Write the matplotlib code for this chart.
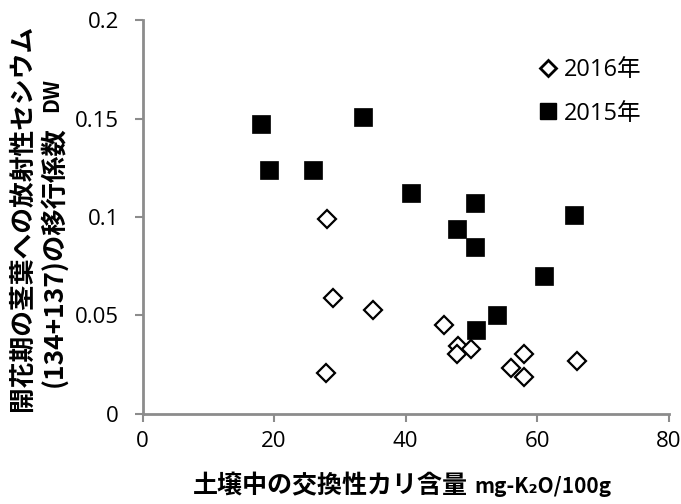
import matplotlib
matplotlib.use("Agg")
import matplotlib.pyplot as plt
from matplotlib.lines import Line2D

plt.rcParams["font.family"] = ["Noto Sans CJK JP", "DejaVu Sans"]

# soil exchangeable K (mg-K2O/100g) vs transfer factor
x_2016 = [28.0, 28.9, 35.0, 45.9, 48.0, 47.8, 50.0, 58.0, 56.0, 58.0, 66.0, 27.9]
y_2016 = [0.099, 0.059, 0.053, 0.0454, 0.0344, 0.0304, 0.0328, 0.0305, 0.0232, 0.0186, 0.0268, 0.0209]

x_2015 = [18.0, 19.2, 25.9, 33.5, 40.8, 47.8, 50.5, 50.5, 65.6, 61.0, 53.9, 50.7]
y_2015 = [0.147, 0.124, 0.124, 0.151, 0.112, 0.094, 0.107, 0.0846, 0.101, 0.070, 0.050, 0.0426]

labels = ["2016年", "2015年"]
xticks = [0, 20, 40, 60, 80]
yticks = [0, 0.05, 0.1, 0.15, 0.2]
ytick_labels = ["0", "0.05", "0.1", "0.15", "0.2"]

fig = plt.figure(figsize=(6.81, 5.04), dpi=100)
ax = fig.add_axes([0.2093, 0.1786, 0.7727, 0.7817])

ax.plot(x_2016, y_2016, "D", ms=9.5, mfc="white", mec="black", mew=1.6, linestyle="none")
ax.plot(x_2015, y_2015, "s", ms=12.5, mfc="black", mec="black", mew=0.5, linestyle="none")

ax.set_xlim(0, 80)
ax.set_ylim(0, 0.2)
ax.set_xticks(xticks)
ax.set_yticks(yticks)
ax.set_yticklabels(ytick_labels)

gray = "#8c8c8c"
for side in ["top", "right"]:
    ax.spines[side].set_visible(False)
for side in ["left", "bottom"]:
    ax.spines[side].set_color(gray)
    ax.spines[side].set_linewidth(2)
ax.tick_params(colors=gray, width=1.5, length=6, labelcolor="black", labelsize=16)
ax.tick_params(axis="x", pad=6)
ax.tick_params(axis="y", pad=11)
for lab in ax.get_xticklabels() + ax.get_yticklabels():
    lab.set_family(["Open Sans", "DejaVu Sans"])

# x label: japanese part + unit part
fig.text(468 / 681, 0.022, "土壌中の交換性カリ含量", ha="right", va="baseline",
         fontsize=18, fontweight="bold")
fig.text(474 / 681, 0.022, "mg-K₂O/100g", ha="left", va="baseline",
         fontsize=15, fontweight="bold")

# y label, two lines, "DW" smaller
fig.text(22 / 681, 1 - 217.5 / 504, "開花期の茎葉への放射性セシウム", rotation=90,
         ha="center", va="center", fontsize=18.5, fontweight="bold")
fig.text(54 / 681, 1 - 256.5 / 504, "(134+137)の移行係数", rotation=90,
         ha="center", va="center", fontsize=19, fontweight="bold")
fig.text(52 / 681, 1 - 95 / 504, "DW", rotation=90,
         ha="center", va="center", fontsize=15, fontweight="bold")

handles = [
    Line2D([], [], marker="D", ms=8.5, mfc="white", mec="black", mew=2, linestyle="none"),
    Line2D([], [], marker="s", ms=12, mfc="black", mec="black", linestyle="none"),
]
ax.legend(handles, labels, loc="upper left", bbox_to_anchor=(0.707, 0.957), frameon=False,
          handletextpad=0.2, labelspacing=0.82, handlelength=1.0,
          prop={"family": ["Open Sans", "Noto Sans CJK JP"], "size": 17})

fig.savefig("out.png", dpi=100)
